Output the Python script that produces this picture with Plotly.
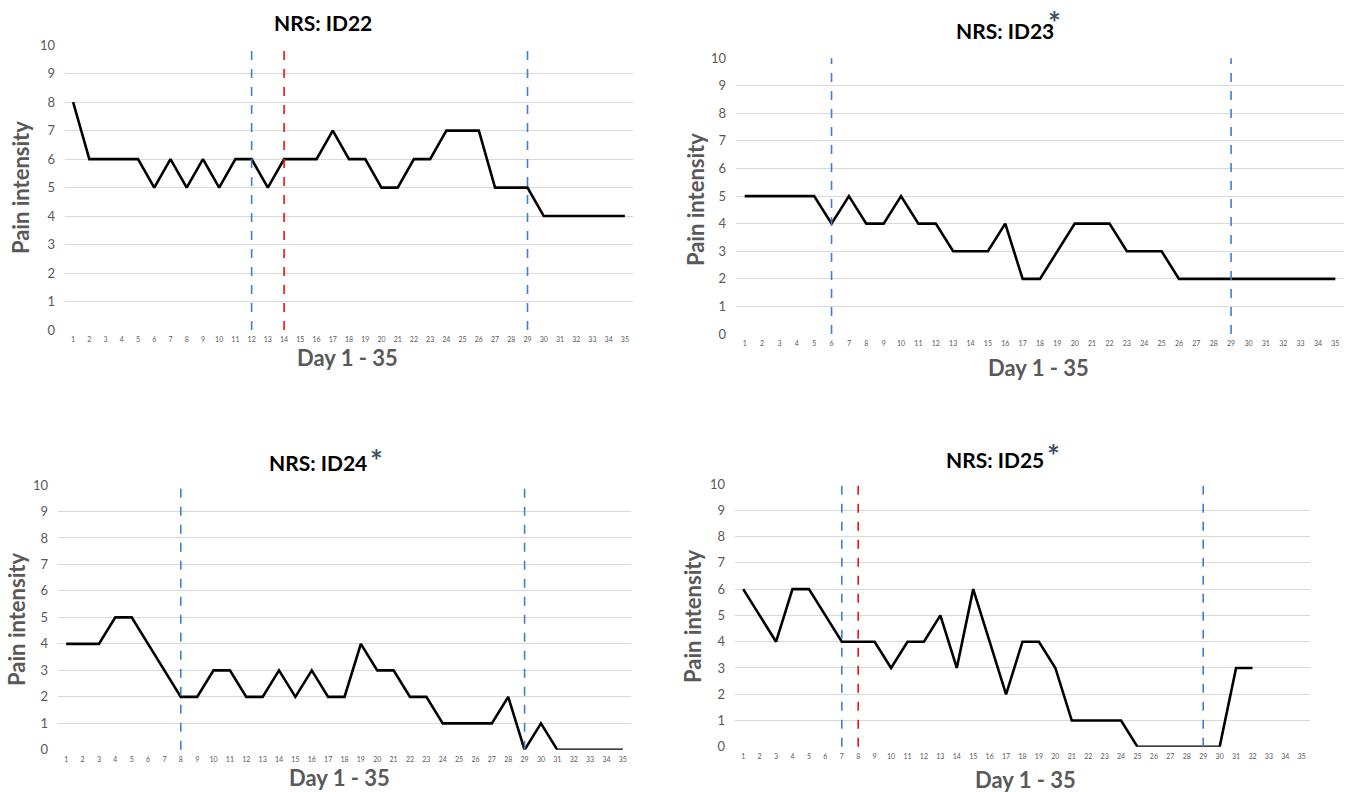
import plotly.graph_objects as go

days = list(range(1, 36))

id22 = [8, 6, 6, 6, 6, 5, 6, 5, 6, 5, 6, 6, 5, 6, 6, 6, 7, 6, 6, 5, 5, 6, 6, 7, 7, 7, 5, 5, 5, 4, 4, 4, 4, 4, 4]
id23 = [5, 5, 5, 5, 5, 4, 5, 4, 4, 5, 4, 4, 3, 3, 3, 4, 2, 2, 3, 4, 4, 4, 3, 3, 3, 2, 2, 2, 2, 2, 2, 2, 2, 2, 2]
id24 = [4, 4, 4, 5, 5, 4, 3, 2, 2, 3, 3, 2, 2, 3, 2, 3, 2, 2, 4, 3, 3, 2, 2, 1, 1, 1, 1, 2, 0, 1, 0, 0, 0, 0, 0]
id25 = [6, 5, 4, 6, 6, 5, 4, 4, 4, 3, 4, 4, 5, 3, 6, 4, 2, 4, 4, 3, 1, 1, 1, 1, 0, 0, 0, 0, 0, 0, 3, 3]

titles = ["NRS: ID22", "NRS: ID23", "NRS: ID24", "NRS: ID25"]
series = [id22, id23, id24, id25]
blue_lines = [[12, 29], [6, 29], [8, 29], [7, 29]]
red_lines = [[14], [], [], [8]]
asterisk = [False, True, True, True]

y_ticks = list(range(0, 11))
x_title = "Day 1 - 35"
y_title = "Pain intensity"

W, H = 1350, 792
# pixel boxes of the plot areas: left, right, top(y=10), bottom(y=0)
boxes = [
    (65, 633, 45, 330),
    (736, 1344, 58, 334),
    (58, 631, 485, 750),
    (735, 1310, 484, 747),
]
# title centre, asterisk pos, y-title pos, x-title pos (pixels)
title_pos = [(323, 22), (1005, 30), (318, 463), (995, 460)]
ast_pos = [None, (1054, 22), (376, 460), (1053, 455)]
ytitle_pos = [(20, 188), (695, 200), (17, 620), (693, 617)]
xtitle_pos = [(347, 357), (1038, 367), (340, 778), (1025, 780)]

FONT = "Lato"
GRAY = "#595959"

def px(x):
    return x / W

def py(y):
    # compensate for the vertical mapping observed in the rendered screenshot
    y_adj = y * 808.0 / 792.0 - 8.0
    return 1 - y_adj / H

fig = go.Figure()
annotations = []
shapes = []

for i in range(4):
    n = "" if i == 0 else str(i + 1)
    xa, ya = "x" + n, "y" + n
    l, r, t, b = boxes[i]
    ys = series[i]
    fig.add_trace(go.Scatter(
        x=days[:len(ys)], y=ys, mode="lines",
        line=dict(color="black", width=2.6),
        xaxis=xa, yaxis=ya, showlegend=False, hoverinfo="x+y"))
    fig.layout["xaxis" + n] = dict(
        domain=[px(l), px(r)], anchor=ya, range=[0.5, 35.5],
        tickvals=days, ticktext=[str(d) for d in days],
        tickfont=dict(family=FONT, size=7, color=GRAY),
        showgrid=False, zeroline=False, showline=False, ticks="",
        ticklabelstandoff=4, fixedrange=True)
    fig.layout["yaxis" + n] = dict(
        domain=[py(b), py(t)], anchor=xa, range=[0, 10],
        tickvals=y_ticks,
        tickfont=dict(family=FONT, size=13, color=GRAY),
        showgrid=True, gridcolor="#d9d9d9", gridwidth=1,
        zeroline=False, showline=False, ticks="",
        ticklabelstandoff=9, fixedrange=True)
    for xv in blue_lines[i]:
        shapes.append(dict(type="line", xref=xa, yref=ya + " domain",
                           x0=xv, x1=xv, y0=0, y1=1,
                           line=dict(color="#3f7fd0", width=1.6, dash="dash")))
    for xv in red_lines[i]:
        shapes.append(dict(type="line", xref=xa, yref=ya + " domain",
                           x0=xv, x1=xv, y0=0, y1=1,
                           line=dict(color="#ee1111", width=1.6, dash="dash")))
    tx, ty = title_pos[i]
    annotations.append(dict(text="<b>" + titles[i] + "</b>", xref="paper", yref="paper",
                            x=px(tx), y=py(ty), xanchor="center", yanchor="middle",
                            showarrow=False, font=dict(family=FONT, size=21, color="black")))
    if asterisk[i]:
        ax_, ay_ = ast_pos[i]
        annotations.append(dict(text="<b>*</b>", xref="paper", yref="paper",
                                x=px(ax_), y=py(ay_), xanchor="center", yanchor="middle",
                                showarrow=False,
                                font=dict(family=FONT, size=30, color="#3d5066")))
    yx, yy = ytitle_pos[i]
    annotations.append(dict(text="<b>" + y_title + "</b>", xref="paper", yref="paper",
                            x=px(yx), y=py(yy), xanchor="center", yanchor="middle",
                            textangle=-90, showarrow=False,
                            font=dict(family=FONT, size=22, color=GRAY)))
    xx, xy = xtitle_pos[i]
    annotations.append(dict(text="<b>" + x_title + "</b>", xref="paper", yref="paper",
                            x=px(xx), y=py(xy), xanchor="center", yanchor="middle",
                            showarrow=False,
                            font=dict(family=FONT, size=22, color=GRAY)))

fig.update_layout(
    width=W, height=H, margin=dict(l=0, r=0, t=0, b=0),
    paper_bgcolor="white", plot_bgcolor="white",
    annotations=annotations, shapes=shapes, showlegend=False)

post = (
    "document.documentElement.style.margin='0';"
    "document.body.style.margin='0';"
    "document.body.style.overflow='hidden';"
    "var gd=document.getElementsByClassName('plotly-graph-div')[0];"
    "gd.style.position='fixed';gd.style.top='0px';gd.style.left='0px';"
)
fig.write_html("out.html", config={"displayModeBar": False}, post_script=post)
